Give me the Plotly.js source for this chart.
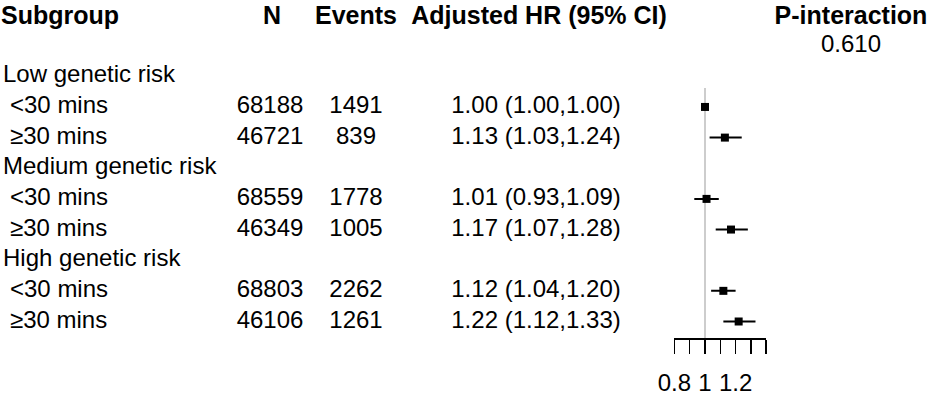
<!DOCTYPE html>
<html>
<head>
<meta charset="utf-8">
<script src="https://cdn.plot.ly/plotly-3.0.1.min.js"></script>
<style>html,body{margin:0;padding:0;background:#fff;}#chart{width:931px;height:396px;}</style>
</head>
<body>
<div id="chart"></div>
<script>
// ---- data ----
const headers = ["Subgroup", "N", "Events", "Adjusted HR (95% CI)", "P-interaction"];
const groups = ["Low genetic risk", "Medium genetic risk", "High genetic risk"];
const subgroups = ["<30 mins", "≥30 mins", "<30 mins", "≥30 mins", "<30 mins", "≥30 mins"];
const nTotal = [68188, 46721, 68559, 46349, 68803, 46106];
const events = [1491, 839, 1778, 1005, 2262, 1261];
const hr = [1.00, 1.13, 1.01, 1.17, 1.12, 1.22];
const lower = [1.00, 1.03, 0.93, 1.07, 1.04, 1.12];
const upper = [1.00, 1.24, 1.09, 1.28, 1.20, 1.33];
const pInteraction = "0.610";
const axisTicks = [0.8, 0.9, 1.0, 1.1, 1.2, 1.3, 1.4];
const axisTickText = ["0.8", "", "1", "", "1.2", "", ""];

// ---- layout constants ----
const W = 931, H = 396;
const headerRow = 0.1, pRow = 1;
const groupRows = [2, 5, 8];
const dataRows = [3, 4, 6, 7, 9, 10];
const colX = {group: 3, sub: 10, n: 270, events: 356, hr: 536, p: 851};
const hdrX = {sub: 1, n: 272, events: 356, hr: 539, p: 851};
const FONT = "Liberation Sans, Arial, sans-serif";
const bodySize = 24, headSize = 25;

const fmt = v => v.toFixed(2);
const hrText = hr.map((v, i) => fmt(v) + " (" + fmt(lower[i]) + "," + fmt(upper[i]) + ")");

function textTrace(xs, ys, texts, pos, bold) {
  return {
    type: "scatter", mode: "text", xaxis: "x2", yaxis: "y",
    x: xs, y: ys, text: texts, textposition: pos, cliponaxis: false,
    textfont: {family: FONT, size: bold ? headSize : bodySize, color: "#000", weight: bold ? 700 : 400},
    hoverinfo: "skip"
  };
}

const traces = [
  textTrace([hdrX.sub], [headerRow], [headers[0]], "middle right", true),
  textTrace([hdrX.n, hdrX.events, hdrX.hr, hdrX.p], [headerRow, headerRow, headerRow, headerRow],
            headers.slice(1), "middle center", true),
  textTrace([colX.p], [pRow], [pInteraction], "middle center", false),
  textTrace(groups.map(() => colX.group), groupRows, groups, "middle right", false),
  textTrace(subgroups.map(() => colX.sub), dataRows, subgroups, "middle right", false),
  textTrace(nTotal.map(() => colX.n), dataRows, nTotal.map(String), "middle center", false),
  textTrace(events.map(() => colX.events), dataRows, events.map(String), "middle center", false),
  textTrace(hrText.map(() => colX.hr), dataRows, hrText, "middle center", false),
  {
    type: "scatter", mode: "markers", xaxis: "x", yaxis: "y",
    x: hr, y: dataRows,
    marker: {symbol: "square", size: 8, color: "#000"},
    error_x: {type: "data", symmetric: false,
              array: upper.map((u, i) => u - hr[i]),
              arrayminus: lower.map((l, i) => hr[i] - l),
              color: "#000", thickness: 2, width: 0},
    cliponaxis: false, hoverinfo: "skip"
  }
];

const axisY = 338; // pixel of axis line
const yTop = -15 / 30.65, yBot = (axisY - 15) / 30.65;

const layout = {
  width: W, height: H,
  margin: {l: 0, r: 0, t: 0, b: 0, pad: 0},
  paper_bgcolor: "#fff", plot_bgcolor: "rgba(0,0,0,0)",
  showlegend: false,
  font: {family: FONT, size: bodySize, color: "#000"},
  xaxis: {
    domain: [(705 - 0.2 * 153) / W, (705 + 0.4 * 153) / W],
    range: [0.8, 1.4], anchor: "y",
    tickmode: "array", tickvals: axisTicks, ticktext: axisTickText,
    ticks: "outside", ticklen: 14, tickwidth: 1.5, tickcolor: "#000",
    showline: true, linecolor: "#000", linewidth: 1.5,
    showgrid: false, zeroline: false, fixedrange: true,
    tickfont: {family: FONT, size: bodySize, color: "#000"},
    ticklabelstandoff: 9
  },
  xaxis2: {domain: [0, 1], range: [0, W], anchor: "y", visible: false, fixedrange: true},
  yaxis: {domain: [(H - axisY) / H, 1], range: [yBot, yTop], visible: false, fixedrange: true},
  shapes: [{
    type: "line", xref: "x", yref: "y", x0: 1, x1: 1, y0: (88 - 15) / 30.65, y1: yBot,
    line: {color: "#bdbdbd", width: 1.5}, layer: "below"
  }]
};

Plotly.newPlot("chart", traces, layout, {staticPlot: true, displayModeBar: false});
</script>
</body>
</html>
